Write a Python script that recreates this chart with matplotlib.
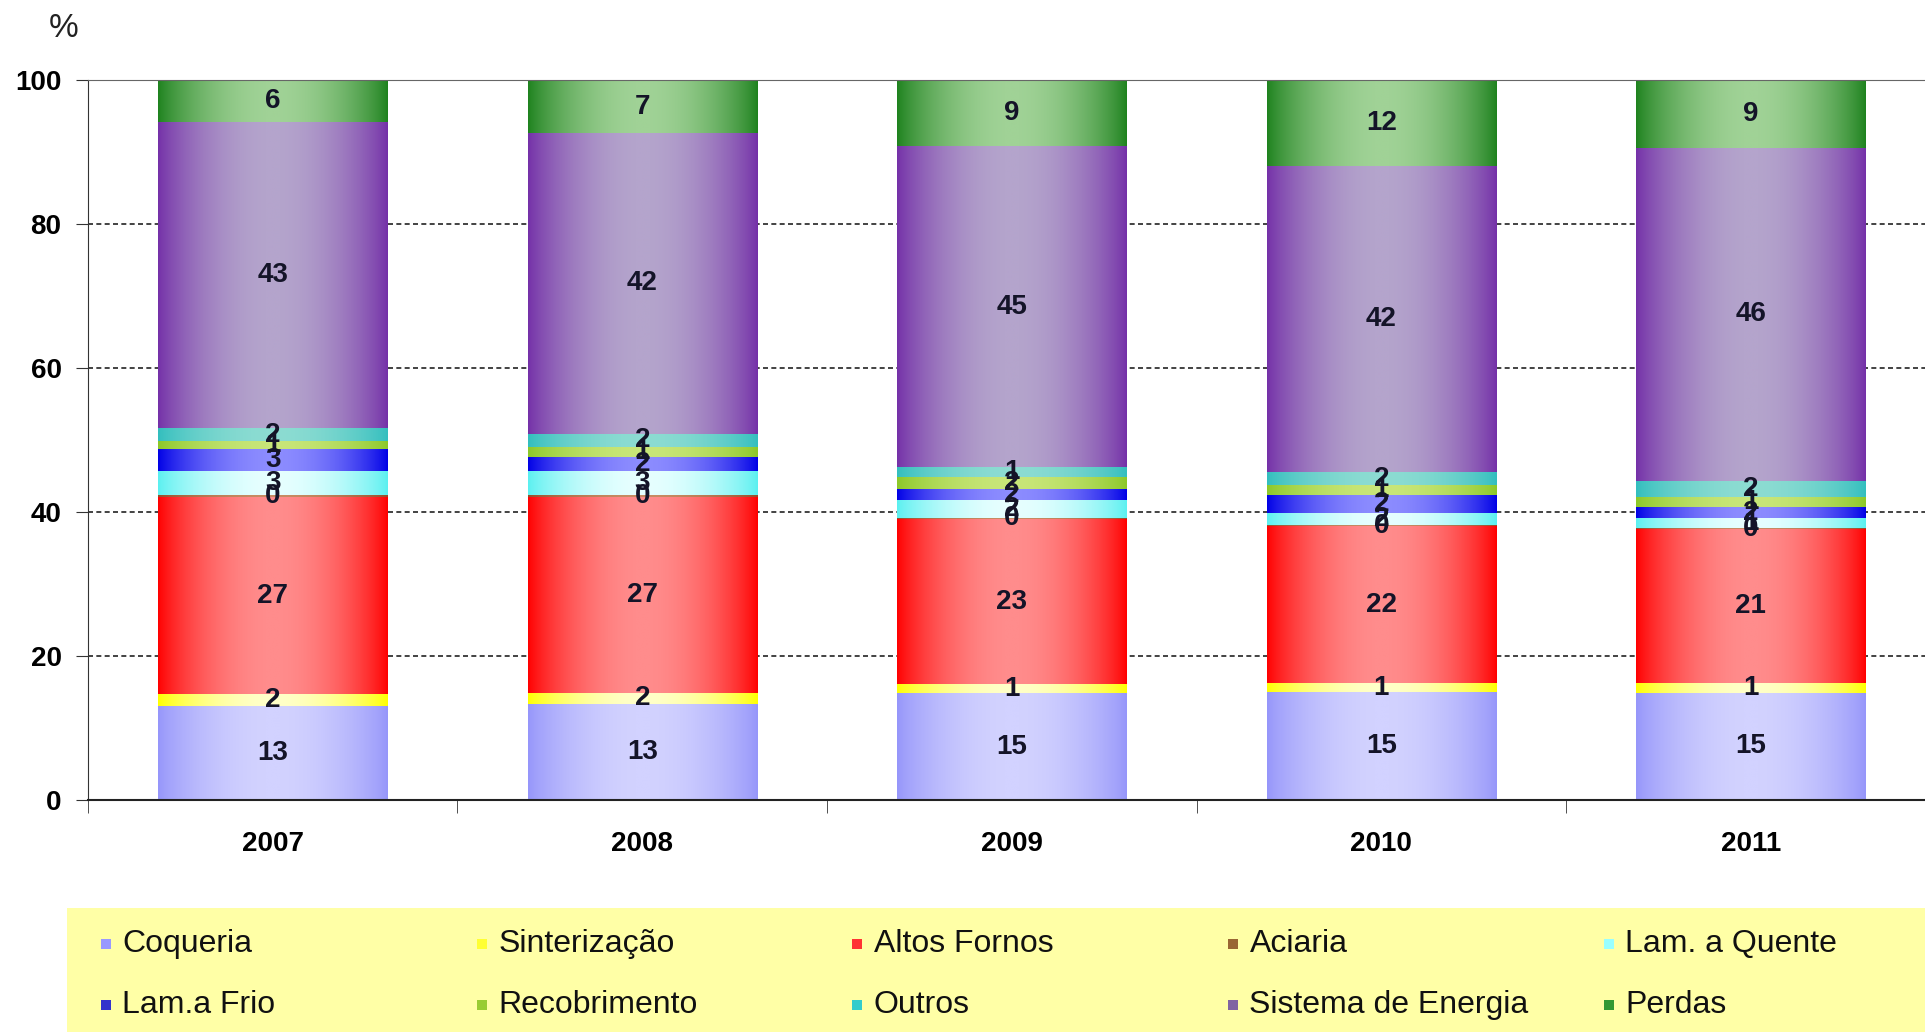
import matplotlib
import matplotlib.pyplot as plt
import numpy as np
from matplotlib.colors import LinearSegmentedColormap
from matplotlib.patches import Rectangle

matplotlib.rc('font', family='Liberation Sans', size=20)

years = ['2007', '2008', '2009', '2010', '2011']
series = ['Coqueria', 'Sinterização', 'Altos Fornos', 'Aciaria', 'Lam. a Quente',
          'Lam.a Frio', 'Recobrimento', 'Outros', 'Sistema de Energia', 'Perdas']

# % share per year (bottom -> top)
coqueria = [13.1, 13.3, 14.8, 15.0, 14.9]
sinterizacao = [1.6, 1.6, 1.3, 1.2, 1.4]
altos_fornos = [27.4, 27.2, 22.9, 21.8, 21.3]
aciaria = [0.2, 0.2, 0.2, 0.2, 0.2]
lam_quente = [3.4, 3.4, 2.4, 1.7, 1.3]
lam_frio = [3.0, 2.0, 1.6, 2.4, 1.6]
recobrimento = [1.1, 1.3, 1.6, 1.4, 1.4]
outros = [1.8, 1.9, 1.4, 1.9, 2.2]
sistema_energia = [42.6, 41.7, 44.6, 42.4, 46.3]
perdas = [5.8, 7.4, 9.2, 12.0, 9.4]

values = [coqueria, sinterizacao, altos_fornos, aciaria, lam_quente,
          lam_frio, recobrimento, outros, sistema_energia, perdas]

# (edge colour, centre colour) for the gradient fill
grad_colors = [('#9696FA', '#D2D2FF'), ('#FFFF00', '#FFFFC8'), ('#FF0000', '#FF8C8C'),
               ('#994C28', '#C88C64'), ('#5AF0F0', '#E6FFFF'), ('#0000E6', '#8C8CFF'),
               ('#8CC828', '#C8E678'), ('#32BEBE', '#8CDCD2'), ('#7430A8', '#B4A4CC'),
               ('#1E821E', '#A0D296')]
legend_colors = ['#9999FF', '#FFFF33', '#FF3333', '#996633', '#99FFFF',
                 '#3333CC', '#99CC33', '#33CCCC', '#8064A2', '#339933']

fig = plt.figure(figsize=(19.25, 10.32), dpi=100)
ax = fig.add_axes([0.0457, 0.2248, 0.9598, 0.6977])

x = np.arange(len(years))
width = 0.62
profile = np.sin(np.pi * np.linspace(0, 1, 256)) ** 0.8

bottom = np.zeros(len(years))
for vals, (c0, c1) in zip(values, grad_colors):
    vals = np.array(vals)
    bars = ax.bar(x, vals, width, bottom=bottom, color='none', edgecolor='none', zorder=2)
    cmap = LinearSegmentedColormap.from_list('g', [c0, c1])
    for rect in bars:
        x0, y0 = rect.get_xy()
        w, h = rect.get_width(), rect.get_height()
        im = ax.imshow(profile[None, :], cmap=cmap, vmin=0, vmax=1, aspect='auto',
                       extent=(x0, x0 + w, y0, y0 + h), zorder=2, interpolation='bilinear')
        im.set_clip_path(rect)
    for xi, b, v in zip(x, bottom, vals):
        ax.text(xi, b + v / 2, '%.0f' % v, ha='center', va='center',
                fontsize=20, fontweight='bold', color='#141428', zorder=5)
    bottom += vals

ax.set_xlim(-0.5, 4.5)
ax.set_ylim(0, 100)
ax.set_yticks(np.arange(0, 101, 20))
ax.set_xticks(x)
ax.set_xticklabels(years, fontweight='bold')
ax.set_xticks(np.arange(-0.5, 5, 1), minor=True)
ax.tick_params(axis='x', which='major', length=0, pad=22)
ax.tick_params(axis='x', which='minor', length=9, direction='out', color='#333333')
ax.tick_params(axis='y', length=9, direction='out', color='#333333', pad=10)
for lbl in ax.get_yticklabels():
    lbl.set_fontweight('bold')

for gy in [20, 40, 60, 80]:
    ax.axhline(gy, color='#222222', lw=1.2, ls=(0, (3, 2)), zorder=1)
ax.spines['right'].set_visible(False)
ax.spines['top'].set_color('#666666')
ax.spines['left'].set_color('#333333')
ax.spines['bottom'].set_color('#222222')
ax.spines['bottom'].set_linewidth(1.5)

fig.text(0.033, 0.972, '%', fontsize=24, ha='center', va='center', color='#222222')

# legend band
fig.patches.append(Rectangle((0.0348, 0.0), 0.97, 0.12, transform=fig.transFigure,
                             facecolor='#FFFFA6', edgecolor='none', zorder=0))
col_step = 375.7 / 1925
for i, (name, col) in enumerate(zip(series, legend_colors)):
    cx = 106 / 1925 + (i % 5) * col_step
    cy = 0.0853 if i < 5 else 0.026
    fig.patches.append(Rectangle((cx - 0.0026, cy - 0.0048), 0.0052, 0.0097,
                                 transform=fig.transFigure, facecolor=col,
                                 edgecolor='none', zorder=1))
    fig.text(cx + 0.0085, cy, name, fontsize=23, ha='left', va='center', color='#111111')

fig.savefig('out.png', dpi=100)
